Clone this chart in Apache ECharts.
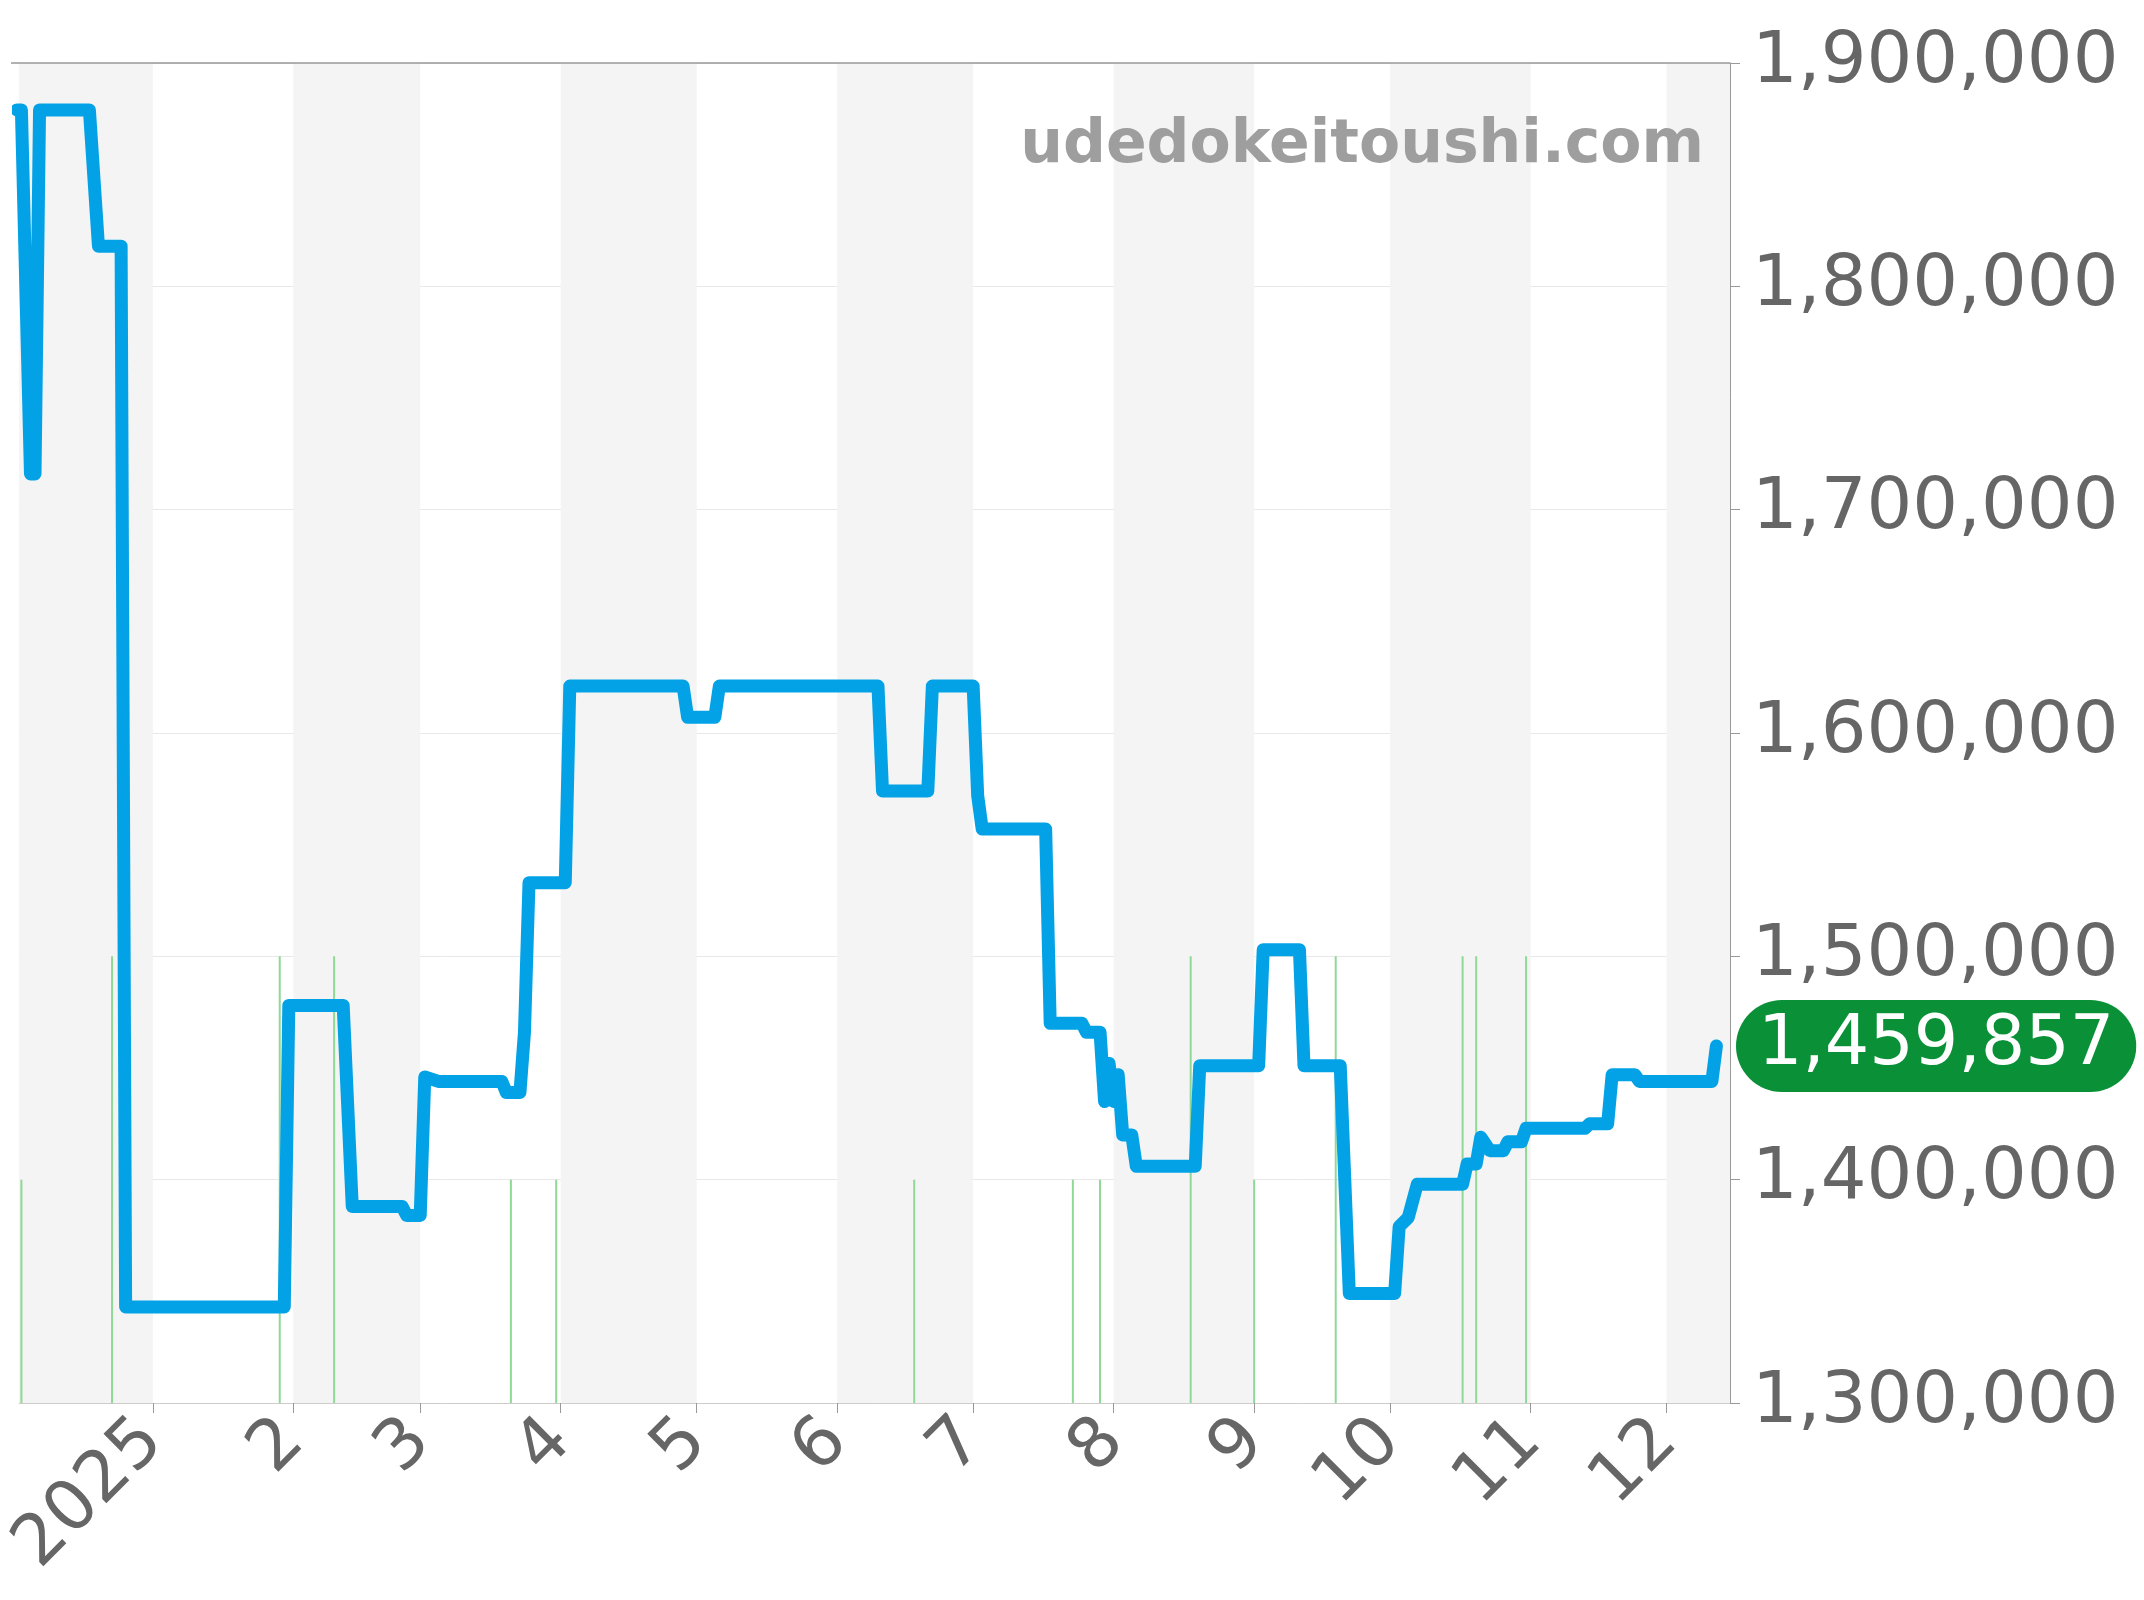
<!DOCTYPE html>
<html>
<head>
<meta charset="utf-8">
<script src="https://cdn.jsdelivr.net/npm/echarts@6/dist/echarts.min.js"></script>
<style>html,body{margin:0;padding:0;background:#fff}#main{width:2144px;height:1600px}</style>
</head>
<body>
<div id="main"></div>
<script>
// price steps [date, yen]
var priceDates = ['2024-12-02','2024-12-03','2024-12-05','2024-12-06','2024-12-07','2024-12-18','2024-12-20','2024-12-25','2024-12-26','2025-01-30','2025-01-31','2025-02-12','2025-02-14','2025-02-25','2025-02-26','2025-03-01','2025-03-02','2025-03-05','2025-03-19','2025-03-20','2025-03-23','2025-03-24','2025-03-25','2025-04-02','2025-04-03','2025-04-28','2025-04-29','2025-05-05','2025-05-06','2025-06-10','2025-06-11','2025-06-21','2025-06-22','2025-07-01','2025-07-02','2025-07-03','2025-07-17','2025-07-18','2025-07-25','2025-07-26','2025-07-29','2025-07-30','2025-07-31','2025-08-01','2025-08-02','2025-08-03','2025-08-05','2025-08-06','2025-08-19','2025-08-20','2025-09-02','2025-09-03','2025-09-11','2025-09-12','2025-09-20','2025-09-22','2025-10-02','2025-10-03','2025-10-05','2025-10-07','2025-10-17','2025-10-18','2025-10-20','2025-10-21','2025-10-23','2025-10-26','2025-10-27','2025-10-30','2025-10-31','2025-11-13','2025-11-14','2025-11-18','2025-11-19','2025-11-24','2025-11-25','2025-12-11','2025-12-12'];
var priceValues = [1879000,1879000,1716000,1716000,1879000,1879000,1818000,1818000,1343000,1343000,1478000,1478000,1388000,1388000,1384000,1384000,1446000,1444000,1444000,1439000,1439000,1466000,1533000,1533000,1621000,1621000,1607000,1607000,1621000,1621000,1574000,1574000,1621000,1621000,1572000,1557000,1557000,1470000,1470000,1466000,1466000,1435000,1452000,1435000,1447000,1420000,1420000,1406000,1406000,1451000,1451000,1503000,1503000,1451000,1451000,1349000,1349000,1379000,1383000,1398000,1398000,1407000,1407000,1419000,1413000,1413000,1417000,1417000,1423000,1423000,1425000,1425000,1447000,1447000,1444000,1444000,1459857];
// green markers
var markDates = ['2024-12-03','2024-12-23','2025-01-29','2025-02-10','2025-03-21','2025-03-31','2025-06-18','2025-07-23','2025-07-29','2025-08-18','2025-09-01','2025-09-19','2025-10-17','2025-10-20','2025-10-31'];
var markValues = [1400000,1500000,1500000,1500000,1400000,1400000,1400000,1400000,1400000,1500000,1400000,1500000,1500000,1500000,1500000];
var monthStarts = ['2025-01-01','2025-02-01','2025-03-01','2025-04-01','2025-05-01','2025-06-01','2025-07-01','2025-08-01','2025-09-01','2025-10-01','2025-11-01','2025-12-01'];
var shadedMonths = [['2024-12-01','2025-01-01'],['2025-02-01','2025-03-01'],['2025-04-01','2025-05-01'],['2025-06-01','2025-07-01'],['2025-08-01','2025-09-01'],['2025-10-01','2025-11-01'],['2025-12-01','2026-01-01']];
var lastPrice = 1459857;

function t(s){ var p = s.split('-'); return Date.UTC(+p[0], +p[1]-1, +p[2]); }
var xMin = t('2024-12-02') + 12 * 3600000, xMax = t('2025-12-15');

var chart = echarts.init(document.getElementById('main'));
chart.setOption({
  animation: false,
  grid: { left: 11, right: 414, top: 63, bottom: 197 },
  graphic: [
    { type: 'line', z: 50, shape: { x1: 11, y1: 63, x2: 1730, y2: 63 }, style: { stroke: '#999', lineWidth: 1.5 } },
    { type: 'text', z: 100, right: 440, top: 116, style: { text: 'udedokeitoushi.com', fill: '#9e9e9e', font: 'bold 60px "DejaVu Sans"' } }
  ],
  xAxis: {
    type: 'value', min: xMin, max: xMax,
    splitLine: { show: false },
    axisLine: { lineStyle: { color: '#ccc' } },
    axisTick: { customValues: monthStarts.map(t), length: 10, lineStyle: { color: '#999' } },
    axisLabel: {
      customValues: monthStarts.map(t), rotate: 45, fontSize: 70, color: '#666', fontFamily: 'DejaVu Sans', margin: 28,
      formatter: function (v) { var d = new Date(v); var m = d.getUTCMonth() + 1; return m === 1 ? String(d.getUTCFullYear()) : String(m); }
    }
  },
  yAxis: {
    type: 'value', position: 'right', min: 1300000, max: 1900000, interval: 100000,
    axisLine: { show: true, lineStyle: { color: '#999' } },
    axisTick: { show: true, length: 10, lineStyle: { color: '#999' } },
    splitLine: { lineStyle: { color: '#e8e8e8' } },
    axisLabel: { fontSize: 72, color: '#666', fontFamily: 'DejaVu Sans', margin: 22, formatter: function (v) { return v.toLocaleString('en-US'); } }
  },
  series: [
    {
      type: 'bar', barWidth: 2, itemStyle: { color: '#8fd896' }, silent: true,
      data: markDates.map(function (d, i) { return [t(d), markValues[i]]; })
    },
    {
      type: 'line', symbol: 'none', z: 5, clip: false,
      lineStyle: { color: '#03a2e6', width: 13, join: 'round', cap: 'round' },
      data: priceDates.map(function (d, i) { return [t(d), priceValues[i]]; }),
      markArea: { silent: true, itemStyle: { color: '#f4f4f4' }, z: 0,
        data: shadedMonths.map(function (p) { return [{ xAxis: Math.max(t(p[0]), xMin) }, { xAxis: Math.min(t(p[1]), xMax) }]; }) },
      markLine: { silent: true, symbol: 'none', lineStyle: { color: 'transparent', width: 0 },
        data: [{ yAxis: lastPrice }],
        label: { show: true, position: 'end', distance: 6, formatter: lastPrice.toLocaleString('en-US'), color: '#fff', fontSize: 70, fontFamily: 'DejaVu Sans',
          backgroundColor: '#0a9138', borderRadius: 48, padding: [14, 22, 8, 22] } }
    }
  ]
});
</script>
</body>
</html>
